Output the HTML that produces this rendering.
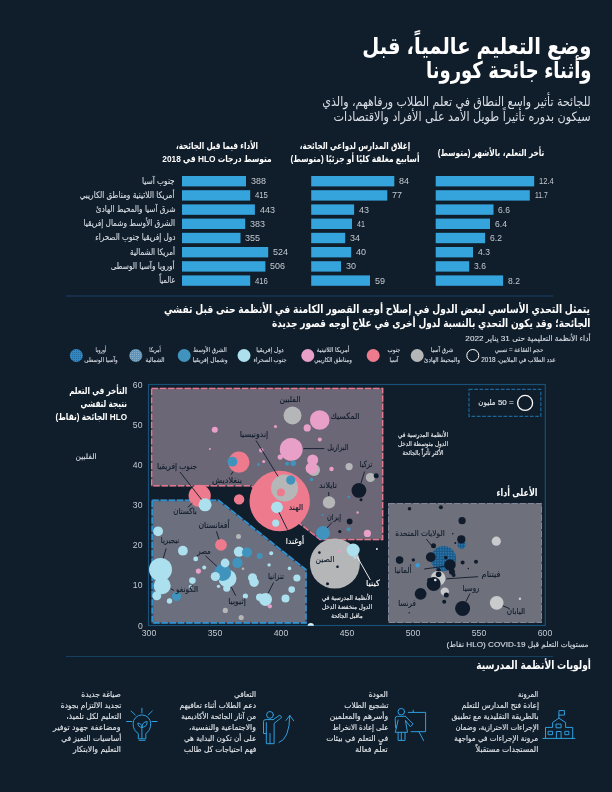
<!DOCTYPE html><html lang="ar"><head><meta charset="utf-8"><title>وضع التعليم عالمياً</title><style>
html,body{margin:0;padding:0;background:#101d2a}
#pg{position:relative;width:612px;height:792px;overflow:hidden;background:#101d2a;font-family:'Liberation Sans','DejaVu Sans Condensed','DejaVu Sans',sans-serif}
#pg svg{position:absolute;left:0;top:0}
.t{position:absolute;white-space:nowrap;direction:rtl;line-height:1;margin:0;padding:0;-webkit-text-stroke:0.12px currentColor}
.b{font-weight:bold;-webkit-text-stroke:0}.n{-webkit-text-stroke:0}
</style></head><body><div id="pg">
<svg width="612" height="792" viewBox="0 0 612 792"><defs><pattern id="na" width="1.6" height="1.6" patternUnits="userSpaceOnUse"><rect width="1.6" height="1.6" fill="#1a5785"/><rect x="0" y="0" width="0.8" height="0.8" fill="#3384bd"/></pattern><pattern id="na2" width="2" height="2" patternUnits="userSpaceOnUse"><rect width="2" height="2" fill="#5f93b8"/><rect x="0" y="0" width="1" height="1" fill="#86aecb"/></pattern><pattern id="eu" width="2" height="2" patternUnits="userSpaceOnUse"><rect width="2" height="2" fill="#3089c5"/><rect x="0" y="0" width="1" height="1" fill="#256a9c"/></pattern><clipPath id="cf"><rect x="148.5" y="384.5" width="397" height="241.3"/></clipPath></defs><line x1="66" y1="296" x2="553" y2="296" stroke="#142f47" stroke-width="2"/><line x1="66" y1="656.5" x2="553" y2="656.5" stroke="#153f5e" stroke-width="1.2"/><rect x="435.7" y="176.0" width="98.5" height="10.4" fill="#35a4dd"/><rect x="311.2" y="176.0" width="83.1" height="10.4" fill="#35a4dd"/><rect x="182.0" y="176.0" width="64.0" height="10.4" fill="#35a4dd"/><rect x="435.7" y="190.2" width="94.1" height="10.4" fill="#35a4dd"/><rect x="311.2" y="190.2" width="76.1" height="10.4" fill="#35a4dd"/><rect x="182.0" y="190.2" width="68.2" height="10.4" fill="#35a4dd"/><rect x="435.7" y="204.4" width="57.8" height="10.4" fill="#35a4dd"/><rect x="311.2" y="204.4" width="42.9" height="10.4" fill="#35a4dd"/><rect x="182.0" y="204.4" width="72.9" height="10.4" fill="#35a4dd"/><rect x="435.7" y="218.6" width="54.3" height="10.4" fill="#35a4dd"/><rect x="311.2" y="218.6" width="40.8" height="10.4" fill="#35a4dd"/><rect x="182.0" y="218.6" width="63.2" height="10.4" fill="#35a4dd"/><rect x="435.7" y="232.8" width="49.4" height="10.4" fill="#35a4dd"/><rect x="311.2" y="232.8" width="34.0" height="10.4" fill="#35a4dd"/><rect x="182.0" y="232.8" width="58.5" height="10.4" fill="#35a4dd"/><rect x="435.7" y="247.0" width="37.3" height="10.4" fill="#35a4dd"/><rect x="311.2" y="247.0" width="40.0" height="10.4" fill="#35a4dd"/><rect x="182.0" y="247.0" width="86.2" height="10.4" fill="#35a4dd"/><rect x="435.7" y="261.2" width="33.5" height="10.4" fill="#35a4dd"/><rect x="311.2" y="261.2" width="29.8" height="10.4" fill="#35a4dd"/><rect x="182.0" y="261.2" width="83.4" height="10.4" fill="#35a4dd"/><rect x="435.7" y="275.4" width="67.4" height="10.4" fill="#35a4dd"/><rect x="311.2" y="275.4" width="58.8" height="10.4" fill="#35a4dd"/><rect x="182.0" y="275.4" width="68.2" height="10.4" fill="#35a4dd"/><circle cx="472.8" cy="355.5" r="6" fill="none" stroke="#fff" stroke-width="1"/><circle cx="417.2" cy="355.5" r="6.5" fill="#b5b6b8"/><circle cx="373.2" cy="355.5" r="6.5" fill="#ee7a8e"/><circle cx="307.8" cy="355.5" r="6.5" fill="#e8a0c8"/><circle cx="244" cy="355.5" r="6.5" fill="#ace0ee"/><circle cx="184.2" cy="355.5" r="6.5" fill="#3f93bd"/><circle cx="135.8" cy="355.5" r="6.5" fill="url(#na2)"/><circle cx="76.3" cy="355.5" r="6.5" fill="url(#eu)"/><rect x="148.5" y="384.5" width="396.8" height="241" fill="none" stroke="#175079" stroke-width="1.2"/><polygon points="151.7,388.4 382.6,388.4 382.6,539.4 320.0,539.4 251.0,485.7 151.7,485.7" fill="#6b6776" stroke="#4a4656" stroke-width="1.5"/><polygon points="151.7,388.4 382.6,388.4 382.6,539.4 320.0,539.4 251.0,485.7 151.7,485.7" fill="none" stroke="#e5778f" stroke-width="1.5" stroke-dasharray="6.4 1.8"/><polygon points="152.3,500.3 218.5,500.3 305.9,569.8 305.9,622.9 152.3,622.9" fill="#6c6f7d" stroke="#3a4456" stroke-width="1.8"/><polygon points="152.3,500.3 218.5,500.3 305.9,569.8 305.9,622.9 152.3,622.9" fill="none" stroke="#2d93d2" stroke-width="1.8" stroke-dasharray="6.4 1.8"/><polygon points="388.5,503.5 541.5,503.5 541.5,622.5 388.5,622.5" fill="#6e707c" stroke="#4a4e5c" stroke-width="1"/><polygon points="388.5,503.5 541.5,503.5 541.5,622.5 388.5,622.5" fill="none" stroke="#82879a" stroke-width="1" stroke-dasharray="6.4 1.8"/><rect x="469" y="389.3" width="71.8" height="27" fill="none" stroke="#1b679a" stroke-width="1.2" stroke-dasharray="3.7 1.6"/><circle cx="525.1" cy="402.9" r="7.5" fill="none" stroke="#fff" stroke-width="1.3"/><g clip-path="url(#cf)"><circle cx="279.7" cy="501.0" r="30.2" fill="#ee7a8e"/><circle cx="284.6" cy="488.0" r="13.5" fill="#b5b6b8"/><circle cx="290.7" cy="480.1" r="4.6" fill="#3f93bd"/><circle cx="280.9" cy="492.4" r="3.9" fill="#ee7a8e"/><circle cx="277.0" cy="507.3" r="5.9" fill="#ace0ee"/><circle cx="275.7" cy="523.1" r="3.6" fill="#ace0ee"/><circle cx="292.5" cy="415.5" r="9.0" fill="#b5b6b8"/><circle cx="319.7" cy="420.0" r="9.8" fill="#e8a0c8"/><circle cx="307.2" cy="427.9" r="3.6" fill="#e8a0c8"/><circle cx="275.5" cy="426.6" r="1.5" fill="#e8a0c8"/><circle cx="319.8" cy="439.6" r="2.0" fill="#e8a0c8"/><circle cx="291.2" cy="449.4" r="11.4" fill="#e8a0c8"/><circle cx="280.2" cy="457.1" r="2.6" fill="#e8a0c8"/><circle cx="287.1" cy="463.8" r="2.0" fill="#3f93bd"/><circle cx="293.3" cy="463.3" r="2.8" fill="#3f93bd"/><circle cx="314.0" cy="470.0" r="6.0" fill="#b5b6b8"/><circle cx="312.7" cy="460.0" r="5.5" fill="#e8a0c8"/><circle cx="311.6" cy="468.2" r="6.0" fill="#e8a0c8"/><circle cx="261.3" cy="450.3" r="2.2" fill="#e8a0c8"/><circle cx="263.7" cy="461.4" r="1.5" fill="#e8a0c8"/><circle cx="258.5" cy="464.6" r="1.5" fill="#3f93bd"/><circle cx="238.9" cy="462.2" r="10.6" fill="#ee7a8e"/><circle cx="232.4" cy="461.7" r="4.9" fill="#3f93bd"/><circle cx="214.8" cy="429.8" r="3.0" fill="#e8a0c8"/><circle cx="209.9" cy="449.0" r="1.0" fill="#e8a0c8"/><circle cx="331.5" cy="469.0" r="2.2" fill="#e8a0c8"/><circle cx="349.1" cy="466.6" r="3.6" fill="#b5b6b8"/><circle cx="370.4" cy="477.5" r="4.6" fill="#b5b6b8"/><circle cx="376.2" cy="475.8" r="2.5" fill="#101c2b"/><circle cx="358.9" cy="490.4" r="7.4" fill="#101c2b"/><circle cx="361.0" cy="499.7" r="1.5" fill="#101c2b"/><circle cx="348.8" cy="497.0" r="1.2" fill="#3f93bd"/><circle cx="311.5" cy="479.5" r="1.8" fill="#3f93bd"/><circle cx="329.0" cy="502.4" r="6.2" fill="#b5b6b8"/><circle cx="357.6" cy="512.5" r="1.2" fill="#e8a0c8"/><circle cx="322.6" cy="514.9" r="1.0" fill="#3f93bd"/><circle cx="323.0" cy="532.9" r="7.0" fill="#3f93bd"/><circle cx="349.6" cy="521.5" r="2.9" fill="#101c2b"/><circle cx="339.8" cy="531.6" r="1.6" fill="#101c2b"/><circle cx="348.6" cy="529.3" r="2.0" fill="#3f93bd"/><circle cx="367.4" cy="533.4" r="3.6" fill="#e8a0c8"/><circle cx="199.7" cy="495.8" r="11.1" fill="#ee7a8e"/><circle cx="205.1" cy="504.8" r="6.5" fill="#ace0ee"/><circle cx="239.1" cy="499.4" r="5.2" fill="#ee7a8e"/><circle cx="334.9" cy="563.6" r="25.0" fill="#b5b6b8"/><circle cx="353.2" cy="550.0" r="6.5" fill="#ace0ee"/><circle cx="354.8" cy="557.6" r="1.4" fill="#ace0ee"/><circle cx="339.3" cy="551.4" r="1.5" fill="#e8a0c8"/><circle cx="319.4" cy="552.6" r="1.3" fill="#101c2b"/><circle cx="337.5" cy="566.7" r="1.3" fill="#101c2b"/><circle cx="327.5" cy="583.7" r="1.5" fill="#101c2b"/><circle cx="376.9" cy="548.9" r="1.0" fill="#e8e8e8"/><circle cx="158.1" cy="531.3" r="4.9" fill="#ace0ee"/><circle cx="182.9" cy="550.7" r="4.9" fill="#ace0ee"/><circle cx="160.5" cy="569.5" r="11.5" fill="#ace0ee"/><circle cx="162.2" cy="585.8" r="8.5" fill="#ace0ee"/><circle cx="156.8" cy="595.7" r="4.5" fill="#ace0ee"/><circle cx="169.5" cy="601.0" r="2.7" fill="#ace0ee"/><circle cx="176.5" cy="596.5" r="4.6" fill="#3f93bd"/><circle cx="192.4" cy="580.6" r="3.3" fill="#ace0ee"/><circle cx="190.4" cy="586.7" r="1.8" fill="#ace0ee"/><circle cx="198.4" cy="571.1" r="2.6" fill="#e8a0c8"/><circle cx="204.2" cy="567.5" r="2.0" fill="#ace0ee"/><circle cx="195.7" cy="558.9" r="2.4" fill="#ace0ee"/><circle cx="221.0" cy="544.8" r="5.9" fill="#ee7a8e"/><circle cx="238.5" cy="536.5" r="2.5" fill="#b5b6b8"/><circle cx="239.0" cy="551.6" r="5.2" fill="#ace0ee"/><circle cx="247.0" cy="552.4" r="5.0" fill="#3f93bd"/><circle cx="237.4" cy="562.8" r="5.2" fill="#3f93bd"/><circle cx="227.5" cy="578.5" r="9.0" fill="#ace0ee"/><circle cx="222.6" cy="572.5" r="8.5" fill="#3f93bd"/><circle cx="225.1" cy="563.0" r="4.4" fill="#ace0ee"/><circle cx="215.3" cy="576.5" r="4.6" fill="#ace0ee"/><circle cx="226.7" cy="588.3" r="3.5" fill="#ace0ee"/><circle cx="218.5" cy="586.3" r="1.6" fill="#ace0ee"/><circle cx="259.6" cy="556.0" r="3.0" fill="#3f93bd"/><circle cx="271.2" cy="553.2" r="2.0" fill="#ace0ee"/><circle cx="269.1" cy="564.9" r="1.7" fill="#ace0ee"/><circle cx="289.5" cy="568.4" r="1.8" fill="#ace0ee"/><circle cx="252.5" cy="577.7" r="4.5" fill="#ace0ee"/><circle cx="254.1" cy="582.3" r="4.7" fill="#ace0ee"/><circle cx="265.5" cy="599.4" r="6.5" fill="#ace0ee"/><circle cx="259.8" cy="597.3" r="3.8" fill="#ace0ee"/><circle cx="269.9" cy="606.3" r="2.1" fill="#e8a0c8"/><circle cx="285.5" cy="598.6" r="4.0" fill="#ace0ee"/><circle cx="291.7" cy="589.6" r="3.3" fill="#ace0ee"/><circle cx="296.9" cy="578.0" r="3.6" fill="#ace0ee"/><circle cx="245.4" cy="596.1" r="2.6" fill="#ace0ee"/><circle cx="225.3" cy="610.4" r="2.6" fill="#b5b6b8"/><circle cx="241.2" cy="617.5" r="2.6" fill="#b5b6b8"/><circle cx="243.0" cy="568.7" r="1.3" fill="#b5b6b8"/><circle cx="409.5" cy="508.8" r="1.8" fill="#101c2b"/><circle cx="440.9" cy="507.2" r="2.0" fill="#101c2b"/><circle cx="462.1" cy="520.7" r="3.6" fill="#101c2b"/><circle cx="461.5" cy="544.8" r="4.0" fill="url(#na)"/><circle cx="461.3" cy="539.4" r="4.1" fill="#101c2b"/><circle cx="452.8" cy="533.7" r="0.8" fill="#101c2b"/><circle cx="455.3" cy="542.9" r="1.0" fill="#101c2b"/><circle cx="433.5" cy="545.7" r="2.5" fill="#101c2b"/><circle cx="443.5" cy="558.7" r="12.6" fill="url(#na)"/><circle cx="430.8" cy="557.1" r="4.9" fill="#101c2b"/><circle cx="450.0" cy="564.9" r="5.7" fill="#101c2b"/><circle cx="445.8" cy="557.6" r="1.8" fill="#101c2b"/><circle cx="452.0" cy="571.8" r="3.0" fill="#101c2b"/><circle cx="453.6" cy="575.0" r="2.0" fill="#101c2b"/><circle cx="462.6" cy="562.5" r="2.0" fill="#101c2b"/><circle cx="476.0" cy="561.7" r="2.0" fill="#101c2b"/><circle cx="468.3" cy="568.5" r="0.8" fill="#101c2b"/><circle cx="399.6" cy="560.1" r="3.8" fill="#101c2b"/><circle cx="413.3" cy="559.9" r="1.7" fill="#101c2b"/><circle cx="417.7" cy="565.3" r="2.2" fill="#3a9ad6"/><circle cx="438.6" cy="570.2" r="2.2" fill="#101c2b"/><circle cx="438.1" cy="578.3" r="7.4" fill="#c9cacc"/><circle cx="438.6" cy="574.2" r="2.8" fill="#101c2b"/><circle cx="433.7" cy="584.0" r="7.0" fill="#101c2b"/><circle cx="435.3" cy="580.0" r="1.3" fill="#e8e8e8"/><circle cx="429.1" cy="580.0" r="2.0" fill="#101c2b"/><circle cx="444.8" cy="591.6" r="4.2" fill="#c9cacc"/><circle cx="446.3" cy="595.1" r="2.5" fill="#101c2b"/><circle cx="444.2" cy="601.7" r="2.0" fill="#101c2b"/><circle cx="420.6" cy="593.8" r="5.9" fill="#101c2b"/><circle cx="462.6" cy="608.5" r="7.5" fill="#101c2b"/><circle cx="496.3" cy="541.2" r="4.6" fill="#c9cacc"/><circle cx="496.7" cy="602.8" r="6.9" fill="#c9cacc"/><circle cx="519.9" cy="598.7" r="1.2" fill="#d0d0d0"/><circle cx="409.2" cy="612.8" r="0.7" fill="#101c2b"/><circle cx="310.8" cy="626.3" r="3.2" fill="#d4eef6"/></g><line x1="256.0" y1="440.5" x2="278.1" y2="476.4" stroke="#101c2b" stroke-width="0.9"/><line x1="303.4" y1="448.6" x2="324.3" y2="448.6" stroke="#101c2b" stroke-width="0.9"/><line x1="180.0" y1="472.0" x2="201.4" y2="499.4" stroke="#101c2b" stroke-width="0.9"/><line x1="233.2" y1="471.5" x2="230.8" y2="474.8" stroke="#101c2b" stroke-width="0.9"/><line x1="364.6" y1="471.5" x2="361.0" y2="483.0" stroke="#101c2b" stroke-width="0.9"/><line x1="328.7" y1="492.0" x2="328.7" y2="496.0" stroke="#101c2b" stroke-width="0.9"/><line x1="192.4" y1="503.2" x2="187.8" y2="507.3" stroke="#101c2b" stroke-width="0.9"/><line x1="216.4" y1="531.3" x2="219.0" y2="539.4" stroke="#101c2b" stroke-width="0.9"/><line x1="166.2" y1="548.4" x2="163.3" y2="558.2" stroke="#101c2b" stroke-width="0.9"/><line x1="205.5" y1="555.8" x2="216.9" y2="566.4" stroke="#101c2b" stroke-width="0.9"/><line x1="278.9" y1="512.2" x2="287.4" y2="529.6" stroke="#101c2b" stroke-width="0.9"/><line x1="332.0" y1="522.3" x2="327.0" y2="528.0" stroke="#101c2b" stroke-width="0.9"/><line x1="357.0" y1="556.4" x2="370.4" y2="580.1" stroke="#fff" stroke-width="0.9"/><line x1="170.8" y1="588.8" x2="174.0" y2="590.5" stroke="#101c2b" stroke-width="0.9"/><line x1="231.3" y1="587.2" x2="235.7" y2="595.7" stroke="#101c2b" stroke-width="0.9"/><line x1="273.5" y1="582.6" x2="268.3" y2="592.9" stroke="#101c2b" stroke-width="0.9"/><line x1="426.3" y1="539.1" x2="432.4" y2="546.5" stroke="#101c2b" stroke-width="0.9"/><line x1="424.2" y1="569.0" x2="445.5" y2="566.1" stroke="#101c2b" stroke-width="0.9"/><line x1="446.3" y1="578.8" x2="478.1" y2="576.7" stroke="#101c2b" stroke-width="0.9"/><line x1="470.0" y1="593.5" x2="465.9" y2="601.7" stroke="#101c2b" stroke-width="0.9"/><line x1="502.9" y1="605.8" x2="509.7" y2="608.7" stroke="#101c2b" stroke-width="0.9"/><g fill="none" stroke="#2e9fdf" stroke-width="1" stroke-linecap="round" stroke-linejoin="round">
<path d="M542.9 738.4H575M545.5 738.4V727.4H552.6V722.5L558.9 718.1L565.6 722.5V727.4H572.7V738.4M558.9 718.1V710.6H564.4V715.1H558.9"/>
<rect x="556.4" y="724.1" width="4.7" height="3.7"/><rect x="548.5" y="731.3" width="4.1" height="3.4"/><rect x="565.2" y="731.3" width="3.7" height="3.4"/><path d="M556.4 738.4V731.5H561.1V738.4"/>
<circle cx="401.3" cy="711.7" r="3.3"/>
<path d="M405.4 716.3H397.5Q395.2 716.3 395.2 718.6L395.6 727.8H396.4L398.1 720M396.4 727.8L395.2 732.3H407.5L405.4 720.4L410.3 726.6L413.2 724.1L405.4 716.3M398.1 732.3V740.4H405V732.3M401.3 732.3V740.4"/>
<path d="M408.3 712.4H425.6V731.7H411.1M413.2 710.2V712.4M418.9 731.7L423.6 740.6"/>
<circle cx="270" cy="714.9" r="3.4"/>
<path d="M273.3 719.6H265.5Q263.5 719.6 263.5 721.6V733.5H266.3V722.5M266.3 733.5V743.7H274.1V723.3L281.7 717.4L279.8 715.1L273.3 719.6M270 733.5V743.7"/>
<path d="M279 742.5Q289.5 739 289.8 715.5M285.9 720.4L289.8 715.5L293.7 720.8"/>
<path d="M138.3 738.4V733.5Q133.1 730.5 133.1 723.7A8.8 8.8 0 0 1 150.7 723.7Q150.7 730.5 145.8 733.5V738.4ZM139.1 740.3H145M141.9 708.2V712.9M126.6 721.5H131.9M151.9 721.5H157.1M131.1 711L135.3 715M152.3 711L148.2 715M141.9 738V727.4M141.9 727.4Q138 727.4 137.8 723.2Q141.6 723 141.9 727.4Q142.2 721.8 147.2 721.6Q147.2 727.2 141.9 727.4"/>
</g></svg>
<div id="t0" class="t b n" style="top:34.93px;font-size:23px;color:#fff;right:20.60px;transform-origin:100% 50%;transform:scaleX(0.945);">وضع التعليم عالمياً، قبل</div>
<div id="t1" class="t b n" style="top:58.53px;font-size:23px;color:#fff;right:20.60px;transform-origin:100% 50%;transform:scaleX(0.869);">وأثناء جائحة كورونا</div>
<div id="t2" class="t n" style="top:94.90px;font-size:13px;color:#d8dee6;right:21.20px;transform-origin:100% 50%;transform:scaleX(0.946);">للجائحة تأثير واسع النطاق في تعلم الطلاب ورفاههم، والذي</div>
<div id="t3" class="t n" style="top:110.10px;font-size:13px;color:#d8dee6;right:21.20px;transform-origin:100% 50%;transform:scaleX(0.957);">سيكون بدوره تأثيراً طويل الأمد على الأفراد والاقتصادات</div>
<div id="t4" class="t b" style="top:148.26px;font-size:9.5px;color:#fff;left:490.50px;transform-origin:50% 50%;transform:translateX(-50%) scaleX(0.861);">تأخر التعلم، بالأشهر (متوسط)</div>
<div id="t5" class="t b" style="top:141.46px;font-size:9.5px;color:#fff;left:354.90px;transform-origin:50% 50%;transform:translateX(-50%) scaleX(0.839);">إغلاق المدارس لدواعي الجائحة،</div>
<div id="t6" class="t b" style="top:154.46px;font-size:9.5px;color:#fff;left:354.90px;transform-origin:50% 50%;transform:translateX(-50%) scaleX(0.871);">أسابيع مغلقة كليًا أو جزئيًا (متوسط)</div>
<div id="t7" class="t b" style="top:141.46px;font-size:9.5px;color:#fff;left:217.00px;transform-origin:50% 50%;transform:translateX(-50%) scaleX(0.847);">الأداء فيما قبل الجائحة،</div>
<div id="t8" class="t b" style="top:154.46px;font-size:9.5px;color:#fff;left:217.00px;transform-origin:50% 50%;transform:translateX(-50%) scaleX(0.876);">متوسط درجات HLO في 2018</div>
<div id="t9" class="t n" style="top:177.10px;font-size:8.5px;color:#c3cad2;left:539.00px;transform-origin:0 50%;direction:ltr;transform:scaleX(0.894);">12.4</div>
<div id="t10" class="t n" style="top:177.10px;font-size:8.5px;color:#c3cad2;left:399.10px;transform-origin:0 50%;direction:ltr;transform:scaleX(1.056);">84</div>
<div id="t11" class="t n" style="top:177.10px;font-size:8.5px;color:#c3cad2;left:250.80px;transform-origin:0 50%;direction:ltr;transform:scaleX(1.057);">388</div>
<div id="t12" class="t n" style="top:191.30px;font-size:8.5px;color:#c3cad2;left:534.60px;transform-origin:0 50%;direction:ltr;transform:scaleX(0.798);">11.7</div>
<div id="t13" class="t n" style="top:191.30px;font-size:8.5px;color:#c3cad2;left:392.10px;transform-origin:0 50%;direction:ltr;transform:scaleX(1.056);">77</div>
<div id="t14" class="t n" style="top:191.30px;font-size:8.5px;color:#c3cad2;left:255.00px;transform-origin:0 50%;direction:ltr;transform:scaleX(0.909);">415</div>
<div id="t15" class="t n" style="top:205.50px;font-size:8.5px;color:#c3cad2;left:498.30px;transform-origin:0 50%;direction:ltr;transform:scaleX(1.006);">6.6</div>
<div id="t16" class="t n" style="top:205.50px;font-size:8.5px;color:#c3cad2;left:358.90px;transform-origin:0 50%;direction:ltr;transform:scaleX(1.056);">43</div>
<div id="t17" class="t n" style="top:205.50px;font-size:8.5px;color:#c3cad2;left:259.70px;transform-origin:0 50%;direction:ltr;transform:scaleX(1.057);">443</div>
<div id="t18" class="t n" style="top:219.70px;font-size:8.5px;color:#c3cad2;left:494.80px;transform-origin:0 50%;direction:ltr;transform:scaleX(1.006);">6.4</div>
<div id="t19" class="t n" style="top:219.70px;font-size:8.5px;color:#c3cad2;left:356.80px;transform-origin:0 50%;direction:ltr;transform:scaleX(0.834);">41</div>
<div id="t20" class="t n" style="top:219.70px;font-size:8.5px;color:#c3cad2;left:250.00px;transform-origin:0 50%;direction:ltr;transform:scaleX(1.057);">383</div>
<div id="t21" class="t n" style="top:233.90px;font-size:8.5px;color:#c3cad2;left:489.90px;transform-origin:0 50%;direction:ltr;transform:scaleX(1.006);">6.2</div>
<div id="t22" class="t n" style="top:233.90px;font-size:8.5px;color:#c3cad2;left:350.00px;transform-origin:0 50%;direction:ltr;transform:scaleX(1.056);">34</div>
<div id="t23" class="t n" style="top:233.90px;font-size:8.5px;color:#c3cad2;left:245.30px;transform-origin:0 50%;direction:ltr;transform:scaleX(1.057);">355</div>
<div id="t24" class="t n" style="top:248.10px;font-size:8.5px;color:#c3cad2;left:477.80px;transform-origin:0 50%;direction:ltr;transform:scaleX(1.006);">4.3</div>
<div id="t25" class="t n" style="top:248.10px;font-size:8.5px;color:#c3cad2;left:356.00px;transform-origin:0 50%;direction:ltr;transform:scaleX(1.056);">40</div>
<div id="t26" class="t n" style="top:248.10px;font-size:8.5px;color:#c3cad2;left:273.00px;transform-origin:0 50%;direction:ltr;transform:scaleX(1.057);">524</div>
<div id="t27" class="t n" style="top:262.30px;font-size:8.5px;color:#c3cad2;left:474.00px;transform-origin:0 50%;direction:ltr;transform:scaleX(1.006);">3.6</div>
<div id="t28" class="t n" style="top:262.30px;font-size:8.5px;color:#c3cad2;left:345.80px;transform-origin:0 50%;direction:ltr;transform:scaleX(1.056);">30</div>
<div id="t29" class="t n" style="top:262.30px;font-size:8.5px;color:#c3cad2;left:270.20px;transform-origin:0 50%;direction:ltr;transform:scaleX(1.057);">506</div>
<div id="t30" class="t n" style="top:276.50px;font-size:8.5px;color:#c3cad2;left:507.90px;transform-origin:0 50%;direction:ltr;transform:scaleX(1.006);">8.2</div>
<div id="t31" class="t n" style="top:276.50px;font-size:8.5px;color:#c3cad2;left:374.80px;transform-origin:0 50%;direction:ltr;transform:scaleX(1.056);">59</div>
<div id="t32" class="t n" style="top:276.50px;font-size:8.5px;color:#c3cad2;left:255.00px;transform-origin:0 50%;direction:ltr;transform:scaleX(0.909);">416</div>
<div id="t33" class="t" style="top:176.58px;font-size:9px;color:#d8dee6;right:437.00px;transform-origin:100% 50%;transform:scaleX(0.916);">جنوب آسيا</div>
<div id="t34" class="t" style="top:190.78px;font-size:9px;color:#d8dee6;right:437.00px;transform-origin:100% 50%;transform:scaleX(0.907);">أمريكا اللاتينية ومناطق الكاريبي</div>
<div id="t35" class="t" style="top:204.98px;font-size:9px;color:#d8dee6;right:437.00px;transform-origin:100% 50%;transform:scaleX(0.901);">شرق آسيا والمحيط الهادئ</div>
<div id="t36" class="t" style="top:219.18px;font-size:9px;color:#d8dee6;right:437.00px;transform-origin:100% 50%;transform:scaleX(0.906);">الشرق الأوسط وشمال إفريقيا</div>
<div id="t37" class="t" style="top:233.38px;font-size:9px;color:#d8dee6;right:437.00px;transform-origin:100% 50%;transform:scaleX(0.897);">دول إفريقيا جنوب الصحراء</div>
<div id="t38" class="t" style="top:247.58px;font-size:9px;color:#d8dee6;right:437.00px;transform-origin:100% 50%;transform:scaleX(0.881);">أمريكا الشمالية</div>
<div id="t39" class="t" style="top:261.78px;font-size:9px;color:#d8dee6;right:437.00px;transform-origin:100% 50%;transform:scaleX(0.906);">أوروبا وآسيا الوسطى</div>
<div id="t40" class="t" style="top:275.98px;font-size:9px;color:#d8dee6;right:437.00px;transform-origin:100% 50%;transform:scaleX(0.837);">عالمياً</div>
<div id="t41" class="t b" style="top:303.63px;font-size:11.3px;color:#fff;right:21.50px;transform-origin:100% 50%;transform:scaleX(0.899);">يتمثل التحدي الأساسي لبعض الدول في إصلاح أوجه القصور الكامنة في الأنظمة حتى قبل تفشي</div>
<div id="t42" class="t b" style="top:317.53px;font-size:11.3px;color:#fff;right:21.50px;transform-origin:100% 50%;transform:scaleX(0.886);">الجائحة؛ وقد يكون التحدي بالنسبة لدول أخرى في علاج أوجه قصور جديدة</div>
<div id="t43" class="t" style="top:334.78px;font-size:7.7px;color:#d8dee6;right:21.50px;transform-origin:100% 50%;transform:scaleX(1.065);">أداء الأنظمة التعليمية حتى 31 يناير 2022</div>
<div id="t44" class="t" style="top:347.08px;font-size:6.4px;color:#d8dee6;left:518.50px;transform-origin:50% 50%;transform:translateX(-50%) scaleX(0.956);">حجم الفقاعة = نسبي</div>
<div id="t45" class="t" style="top:357.18px;font-size:6.4px;color:#d8dee6;left:518.50px;transform-origin:50% 50%;transform:translateX(-50%);">عدد الطلاب في الملايين، 2018</div>
<div id="t46" class="t" style="top:347.08px;font-size:6.4px;color:#d8dee6;left:441.50px;transform-origin:50% 50%;transform:translateX(-50%) scaleX(0.932);">شرق آسيا</div>
<div id="t47" class="t" style="top:357.18px;font-size:6.4px;color:#d8dee6;left:441.50px;transform-origin:50% 50%;transform:translateX(-50%) scaleX(0.969);">والمحيط الهادئ</div>
<div id="t48" class="t" style="top:347.08px;font-size:6.4px;color:#d8dee6;left:394.00px;transform-origin:50% 50%;transform:translateX(-50%) scaleX(0.950);">جنوب</div>
<div id="t49" class="t" style="top:357.18px;font-size:6.4px;color:#d8dee6;left:394.00px;transform-origin:50% 50%;transform:translateX(-50%) scaleX(0.888);">آسيا</div>
<div id="t50" class="t" style="top:347.08px;font-size:6.4px;color:#d8dee6;left:333.40px;transform-origin:50% 50%;transform:translateX(-50%) scaleX(0.996);">أمريكا اللاتينية</div>
<div id="t51" class="t" style="top:357.18px;font-size:6.4px;color:#d8dee6;left:333.40px;transform-origin:50% 50%;transform:translateX(-50%) scaleX(0.948);">ومناطق الكاريبي</div>
<div id="t52" class="t" style="top:347.08px;font-size:6.4px;color:#d8dee6;left:269.90px;transform-origin:50% 50%;transform:translateX(-50%) scaleX(1.026);">دول إفريقيا</div>
<div id="t53" class="t" style="top:357.18px;font-size:6.4px;color:#d8dee6;left:269.90px;transform-origin:50% 50%;transform:translateX(-50%) scaleX(0.947);">جنوب الصحراء</div>
<div id="t54" class="t" style="top:347.08px;font-size:6.4px;color:#d8dee6;left:210.30px;transform-origin:50% 50%;transform:translateX(-50%) scaleX(0.929);">الشرق الأوسط</div>
<div id="t55" class="t" style="top:357.18px;font-size:6.4px;color:#d8dee6;left:210.30px;transform-origin:50% 50%;transform:translateX(-50%) scaleX(1.025);">وشمال إفريقيا</div>
<div id="t56" class="t" style="top:347.08px;font-size:6.4px;color:#d8dee6;left:155.30px;transform-origin:50% 50%;transform:translateX(-50%) scaleX(0.792);">أمريكا</div>
<div id="t57" class="t" style="top:357.18px;font-size:6.4px;color:#d8dee6;left:155.30px;transform-origin:50% 50%;transform:translateX(-50%) scaleX(0.944);">الشمالية</div>
<div id="t58" class="t" style="top:347.08px;font-size:6.4px;color:#d8dee6;left:101.30px;transform-origin:50% 50%;transform:translateX(-50%) scaleX(0.813);">أوروبا</div>
<div id="t59" class="t" style="top:357.18px;font-size:6.4px;color:#d8dee6;left:101.30px;transform-origin:50% 50%;transform:translateX(-50%) scaleX(0.948);">وآسيا الوسطى</div>
<div id="t60" class="t n" style="top:380.80px;font-size:8.5px;color:#c3cad2;right:469.20px;transform-origin:100% 50%;transform:scaleX(1.014);">60</div>
<div id="t61" class="t n" style="top:420.93px;font-size:8.5px;color:#c3cad2;right:469.20px;transform-origin:100% 50%;transform:scaleX(1.014);">50</div>
<div id="t62" class="t n" style="top:461.06px;font-size:8.5px;color:#c3cad2;right:469.20px;transform-origin:100% 50%;transform:scaleX(1.014);">40</div>
<div id="t63" class="t n" style="top:501.19px;font-size:8.5px;color:#c3cad2;right:469.20px;transform-origin:100% 50%;transform:scaleX(1.014);">30</div>
<div id="t64" class="t n" style="top:541.32px;font-size:8.5px;color:#c3cad2;right:469.20px;transform-origin:100% 50%;transform:scaleX(1.014);">20</div>
<div id="t65" class="t n" style="top:581.45px;font-size:8.5px;color:#c3cad2;right:469.20px;transform-origin:100% 50%;transform:scaleX(1.014);">10</div>
<div id="t66" class="t n" style="top:621.58px;font-size:8.5px;color:#c3cad2;right:469.20px;transform-origin:100% 50%;transform:scaleX(1.014);">0</div>
<div id="t67" class="t n" style="top:628.90px;font-size:8.5px;color:#c3cad2;left:148.60px;transform-origin:50% 50%;transform:translateX(-50%) scaleX(1.022);">300</div>
<div id="t68" class="t n" style="top:628.90px;font-size:8.5px;color:#c3cad2;left:214.70px;transform-origin:50% 50%;transform:translateX(-50%) scaleX(1.022);">350</div>
<div id="t69" class="t n" style="top:628.90px;font-size:8.5px;color:#c3cad2;left:280.80px;transform-origin:50% 50%;transform:translateX(-50%) scaleX(1.022);">400</div>
<div id="t70" class="t n" style="top:628.90px;font-size:8.5px;color:#c3cad2;left:346.90px;transform-origin:50% 50%;transform:translateX(-50%) scaleX(1.022);">450</div>
<div id="t71" class="t n" style="top:628.90px;font-size:8.5px;color:#c3cad2;left:413.00px;transform-origin:50% 50%;transform:translateX(-50%) scaleX(1.022);">500</div>
<div id="t72" class="t n" style="top:628.90px;font-size:8.5px;color:#c3cad2;left:479.10px;transform-origin:50% 50%;transform:translateX(-50%) scaleX(1.022);">550</div>
<div id="t73" class="t n" style="top:628.90px;font-size:8.5px;color:#c3cad2;left:545.20px;transform-origin:50% 50%;transform:translateX(-50%) scaleX(1.022);">600</div>
<div id="t74" class="t b" style="top:385.67px;font-size:9.6px;color:#fff;right:485.00px;transform-origin:100% 50%;transform:scaleX(0.839);">التأخر في التعلم</div>
<div id="t75" class="t b" style="top:398.87px;font-size:9.6px;color:#fff;right:485.00px;transform-origin:100% 50%;transform:scaleX(0.843);">نتيجة لتفشي</div>
<div id="t76" class="t b" style="top:411.67px;font-size:9.6px;color:#fff;right:485.00px;transform-origin:100% 50%;transform:scaleX(0.851);">HLO الجائحة (نقاط)</div>
<div id="t77" class="t" style="top:452.90px;font-size:7.5px;color:#d8dee6;left:86.25px;transform-origin:50% 50%;transform:translateX(-50%) scaleX(1.123);">الفلبين</div>
<div id="t78" class="t" style="top:640.87px;font-size:7.6px;color:#d8dee6;right:23.40px;transform-origin:100% 50%;transform:scaleX(1.071);">مستويات التعلم قبل COVID-19 ‏(HLO نقاط)</div>
<div id="t79" class="t b" style="top:659.93px;font-size:11.3px;color:#fff;right:21.50px;transform-origin:100% 50%;transform:scaleX(0.896);">أولويات الأنظمة المدرسية</div>
<div id="t80" class="t b" style="top:487.26px;font-size:10.5px;color:#fff;left:516.75px;transform-origin:50% 50%;transform:translateX(-50%) scaleX(0.835);">الأعلى أداء</div>
<div id="t81" class="t" style="top:398.83px;font-size:8px;color:#e8ecf0;left:496.05px;transform-origin:50% 50%;transform:translateX(-50%) scaleX(0.996);">= 50 مليون</div>
<div id="t82" class="t" style="top:394.65px;font-size:8.5px;color:#101c2b;left:289.60px;transform-origin:50% 50%;transform:translateX(-50%) scaleX(0.995);">الفلبين</div>
<div id="t83" class="t" style="top:411.65px;font-size:8.5px;color:#101c2b;left:345.25px;transform-origin:50% 50%;transform:translateX(-50%) scaleX(1.008);">المكسيك</div>
<div id="t84" class="t" style="top:429.75px;font-size:8.5px;color:#101c2b;left:254.00px;transform-origin:50% 50%;transform:translateX(-50%) scaleX(1.027);">إندونيسيا</div>
<div id="t85" class="t" style="top:442.65px;font-size:8.5px;color:#101c2b;left:337.65px;transform-origin:50% 50%;transform:translateX(-50%) scaleX(0.861);">البرازيل</div>
<div id="t86" class="t" style="top:459.85px;font-size:8.5px;color:#101c2b;left:366.40px;transform-origin:50% 50%;transform:translateX(-50%) scaleX(0.874);">تركيا</div>
<div id="t87" class="t" style="top:461.95px;font-size:8.5px;color:#101c2b;left:176.90px;transform-origin:50% 50%;transform:translateX(-50%) scaleX(0.976);">جنوب إفريقيا</div>
<div id="t88" class="t" style="top:475.95px;font-size:8.5px;color:#101c2b;left:227.10px;transform-origin:50% 50%;transform:translateX(-50%) scaleX(1.079);">بنغلاديش</div>
<div id="t89" class="t" style="top:480.85px;font-size:8.5px;color:#101c2b;left:327.90px;transform-origin:50% 50%;transform:translateX(-50%) scaleX(1.041);">تايلاند</div>
<div id="t90" class="t" style="top:507.05px;font-size:8.5px;color:#101c2b;left:185.45px;transform-origin:50% 50%;transform:translateX(-50%) scaleX(0.941);">باكستان</div>
<div id="t91" class="t" style="top:502.95px;font-size:8.5px;color:#101c2b;left:295.90px;transform-origin:50% 50%;transform:translateX(-50%) scaleX(1.006);">الهند</div>
<div id="t92" class="t" style="top:512.75px;font-size:8.5px;color:#101c2b;left:334.00px;transform-origin:50% 50%;transform:translateX(-50%) scaleX(0.863);">إيران</div>
<div id="t93" class="t" style="top:520.95px;font-size:8.5px;color:#101c2b;left:214.45px;transform-origin:50% 50%;transform:translateX(-50%) scaleX(1.003);">أفغانستان</div>
<div id="t94" class="t" style="top:536.35px;font-size:8.5px;color:#101c2b;left:169.65px;transform-origin:50% 50%;transform:translateX(-50%) scaleX(0.899);">نيجيريا</div>
<div id="t95" class="t" style="top:547.05px;font-size:8.5px;color:#101c2b;left:204.40px;transform-origin:50% 50%;transform:translateX(-50%) scaleX(0.910);">مصر</div>
<div id="t96" class="t" style="top:555.25px;font-size:8.5px;color:#101c2b;left:324.50px;transform-origin:50% 50%;transform:translateX(-50%) scaleX(0.989);">الصين</div>
<div id="t97" class="t" style="top:571.75px;font-size:8.5px;color:#101c2b;left:275.80px;transform-origin:50% 50%;transform:translateX(-50%) scaleX(0.911);">تنزانيا</div>
<div id="t98" class="t" style="top:585.35px;font-size:8.5px;color:#101c2b;left:187.05px;transform-origin:50% 50%;transform:translateX(-50%) scaleX(0.986);">الكونغو</div>
<div id="t99" class="t" style="top:596.75px;font-size:8.5px;color:#101c2b;left:237.40px;transform-origin:50% 50%;transform:translateX(-50%) scaleX(1.018);">إثيوبيا</div>
<div id="t100" class="t" style="top:529.05px;font-size:8.5px;color:#101c2b;left:420.35px;transform-origin:50% 50%;transform:translateX(-50%) scaleX(0.972);">الولايات المتحدة</div>
<div id="t101" class="t" style="top:566.05px;font-size:8.5px;color:#101c2b;left:402.55px;transform-origin:50% 50%;transform:translateX(-50%) scaleX(0.952);">ألمانيا</div>
<div id="t102" class="t" style="top:570.05px;font-size:8.5px;color:#101c2b;left:490.50px;transform-origin:50% 50%;transform:translateX(-50%) scaleX(1.065);">فيتنام</div>
<div id="t103" class="t" style="top:584.35px;font-size:8.5px;color:#101c2b;left:471.30px;transform-origin:50% 50%;transform:translateX(-50%) scaleX(0.922);">روسيا</div>
<div id="t104" class="t" style="top:598.65px;font-size:8.5px;color:#101c2b;left:407.20px;transform-origin:50% 50%;transform:translateX(-50%) scaleX(0.918);">فرنسا</div>
<div id="t105" class="t" style="top:606.85px;font-size:8.5px;color:#101c2b;left:516.15px;transform-origin:50% 50%;transform:translateX(-50%) scaleX(0.955);">اليابان</div>
<div id="t106" class="t" style="top:537.25px;font-size:8.5px;color:#fff;left:295.45px;transform-origin:50% 50%;transform:translateX(-50%) scaleX(1.002);">أوغندا</div>
<div id="t107" class="t" style="top:578.75px;font-size:8.5px;color:#fff;left:373.25px;transform-origin:50% 50%;transform:translateX(-50%) scaleX(1.077);">كينيا</div>
<div id="t108" class="t" style="top:431.91px;font-size:6.6px;color:#eef1f4;left:423.00px;transform-origin:50% 50%;transform:translateX(-50%) scaleX(0.954);">الأنظمة المدرسية في</div>
<div id="t109" class="t" style="top:441.21px;font-size:6.6px;color:#eef1f4;left:423.00px;transform-origin:50% 50%;transform:translateX(-50%) scaleX(0.940);">الدول متوسطة الدخل</div>
<div id="t110" class="t" style="top:450.21px;font-size:6.6px;color:#eef1f4;left:423.00px;transform-origin:50% 50%;transform:translateX(-50%) scaleX(0.888);">الأكثر تأثراً بالجائحة</div>
<div id="t111" class="t" style="top:595.01px;font-size:6.6px;color:#eef1f4;left:347.20px;transform-origin:50% 50%;transform:translateX(-50%) scaleX(0.954);">الأنظمة المدرسية في</div>
<div id="t112" class="t" style="top:604.31px;font-size:6.6px;color:#eef1f4;left:347.20px;transform-origin:50% 50%;transform:translateX(-50%) scaleX(0.957);">الدول منخفضة الدخل</div>
<div id="t113" class="t" style="top:613.31px;font-size:6.6px;color:#eef1f4;left:347.20px;transform-origin:50% 50%;transform:translateX(-50%) scaleX(0.932);">ماقبل الجائحة</div>
<div id="t114" class="t" style="top:690.86px;font-size:8.2px;color:#e0e5ea;right:73.40px;transform-origin:100% 50%;transform:scaleX(0.907);">المرونة</div>
<div id="t115" class="t" style="top:701.98px;font-size:8.2px;color:#e0e5ea;right:73.40px;transform-origin:100% 50%;transform:scaleX(0.990);">إعادة فتح المدارس للتعلم</div>
<div id="t116" class="t" style="top:713.10px;font-size:8.2px;color:#e0e5ea;right:73.40px;transform-origin:100% 50%;transform:scaleX(1.029);">بالطريقة التقليدية مع تطبيق</div>
<div id="t117" class="t" style="top:724.22px;font-size:8.2px;color:#e0e5ea;right:73.40px;transform-origin:100% 50%;transform:scaleX(0.961);">الإجراءات الاحترازية، وضمان</div>
<div id="t118" class="t" style="top:735.34px;font-size:8.2px;color:#e0e5ea;right:73.40px;transform-origin:100% 50%;transform:scaleX(0.984);">مرونة الإجراءات في مواجهة</div>
<div id="t119" class="t" style="top:746.46px;font-size:8.2px;color:#e0e5ea;right:73.40px;transform-origin:100% 50%;transform:scaleX(1.036);">المستجدات مستقبلاً</div>
<div id="t120" class="t" style="top:690.86px;font-size:8.2px;color:#e0e5ea;right:223.90px;transform-origin:100% 50%;transform:scaleX(1.016);">العودة</div>
<div id="t121" class="t" style="top:701.98px;font-size:8.2px;color:#e0e5ea;right:223.90px;transform-origin:100% 50%;transform:scaleX(1.015);">تشجيع الطلاب</div>
<div id="t122" class="t" style="top:713.10px;font-size:8.2px;color:#e0e5ea;right:223.90px;transform-origin:100% 50%;transform:scaleX(1.021);">وأسرهم والمعلمين</div>
<div id="t123" class="t" style="top:724.22px;font-size:8.2px;color:#e0e5ea;right:223.90px;transform-origin:100% 50%;transform:scaleX(0.942);">على إعادة الانخراط</div>
<div id="t124" class="t" style="top:735.34px;font-size:8.2px;color:#e0e5ea;right:223.90px;transform-origin:100% 50%;transform:scaleX(1.047);">في التعلم في بيئات</div>
<div id="t125" class="t" style="top:746.46px;font-size:8.2px;color:#e0e5ea;right:223.90px;transform-origin:100% 50%;transform:scaleX(1.061);">تعلّم فعالة</div>
<div id="t126" class="t" style="top:690.86px;font-size:8.2px;color:#e0e5ea;right:356.00px;transform-origin:100% 50%;">التعافي</div>
<div id="t127" class="t" style="top:701.98px;font-size:8.2px;color:#e0e5ea;right:356.00px;transform-origin:100% 50%;transform:scaleX(1.020);">دعم الطلاب أثناء تعافيهم</div>
<div id="t128" class="t" style="top:713.10px;font-size:8.2px;color:#e0e5ea;right:356.00px;transform-origin:100% 50%;transform:scaleX(0.983);">من آثار الجائحة الأكاديمية</div>
<div id="t129" class="t" style="top:724.22px;font-size:8.2px;color:#e0e5ea;right:356.00px;transform-origin:100% 50%;transform:scaleX(1.029);">والاجتماعية والنفسية،</div>
<div id="t130" class="t" style="top:735.34px;font-size:8.2px;color:#e0e5ea;right:356.00px;transform-origin:100% 50%;transform:scaleX(0.986);">على أن تكون البداية هي</div>
<div id="t131" class="t" style="top:746.46px;font-size:8.2px;color:#e0e5ea;right:356.00px;transform-origin:100% 50%;transform:scaleX(0.999);">فهم احتياجات كل طالب</div>
<div id="t132" class="t" style="top:690.86px;font-size:8.2px;color:#e0e5ea;right:491.10px;transform-origin:100% 50%;transform:scaleX(1.018);">صياغة جديدة</div>
<div id="t133" class="t" style="top:701.98px;font-size:8.2px;color:#e0e5ea;right:491.10px;transform-origin:100% 50%;transform:scaleX(1.004);">تجديد الالتزام بجودة</div>
<div id="t134" class="t" style="top:713.10px;font-size:8.2px;color:#e0e5ea;right:491.10px;transform-origin:100% 50%;transform:scaleX(1.034);">التعليم لكل تلميذ،</div>
<div id="t135" class="t" style="top:724.22px;font-size:8.2px;color:#e0e5ea;right:491.10px;transform-origin:100% 50%;transform:scaleX(1.062);">ومضاعفة جهود توفير</div>
<div id="t136" class="t" style="top:735.34px;font-size:8.2px;color:#e0e5ea;right:491.10px;transform-origin:100% 50%;transform:scaleX(1.012);">أساسيات التميز في</div>
<div id="t137" class="t" style="top:746.46px;font-size:8.2px;color:#e0e5ea;right:491.10px;transform-origin:100% 50%;transform:scaleX(1.042);">التعليم والابتكار</div>
</div></body></html>
